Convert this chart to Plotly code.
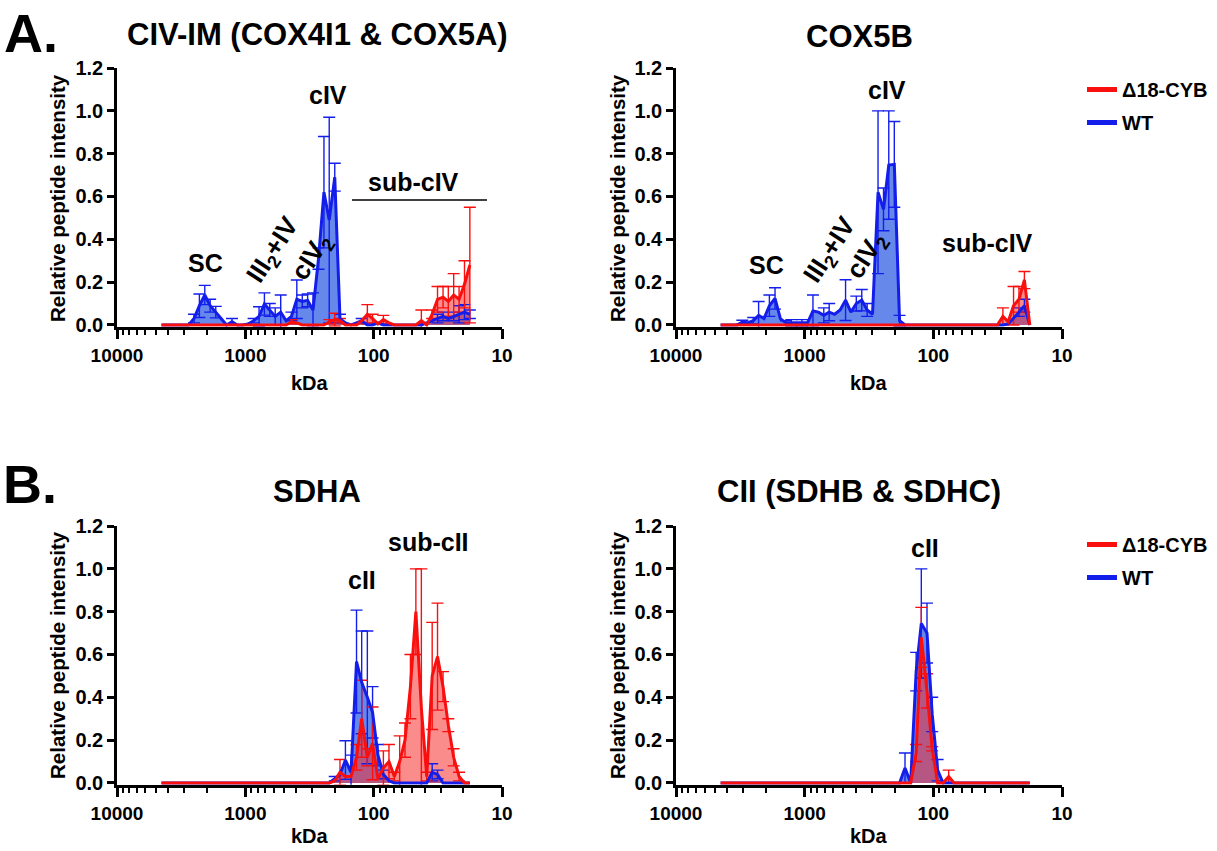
import plotly.graph_objects as go

# ---------------- data ----------------
kda = [4500, 4080, 3700, 3360, 3050, 2770, 2510, 2280, 2070, 1880,
       1700, 1545, 1400, 1270, 1155, 1050, 950, 862, 782, 710,
       645, 585, 530, 481, 437, 397, 360, 327, 297, 269,
       244, 222, 201, 183, 166, 150, 136, 124, 112, 102,
       92.6, 84, 76, 69, 62.7, 57, 51.7, 46.9, 42.5, 38.6,
       35, 31.8, 28.8, 26.2, 23.8, 21.6, 19.6, 17.8]

# Panel A (left): CIV-IM (COX4I1 & COX5A)
civim_wt = [0, 0, 0, 0, 0, 0, 0.03, 0.09, 0.14, 0.09,
            0.06, 0.03, 0, 0.015, 0, 0, 0.005, 0.02, 0.04, 0.098,
            0.07, 0.04, 0.06, 0.02, 0.04, 0.12, 0.11, 0.115, 0.07, 0.31,
            0.62, 0.49, 0.69, 0.03, 0.01, 0, 0.01, 0.02, 0, 0,
            0.01, 0, 0, 0, 0, 0, 0, 0, 0, 0.01,
            0.02, 0.03, 0.04, 0.03, 0.04, 0.05, 0.06, 0.05]
civim_wt_err = [0, 0, 0, 0, 0, 0, 0.02, 0.055, 0.045, 0.03,
                0.027, 0, 0, 0.015, 0, 0, 0, 0.01, 0.045, 0.052,
                0.03, 0.04, 0.08, 0, 0.02, 0.09, 0.03, 0.03, 0.08, 0.05,
                0.26, 0.48, 0.065, 0.02, 0, 0, 0, 0.01, 0, 0,
                0, 0, 0, 0, 0, 0, 0, 0, 0, 0,
                0, 0.02, 0.02, 0, 0.02, 0.04, 0.035, 0.02]
civim_d18 = [0, 0, 0, 0, 0, 0, 0, 0, 0, 0,
             0, 0, 0, 0, 0, 0, 0, 0, 0, 0,
             0, 0, 0, 0, 0.015, 0.01, 0, 0, 0, 0,
             0, 0.015, 0.025, 0.02, 0, 0, 0, 0.02, 0.05, 0.03,
             0.005, 0.025, 0.01, 0, 0, 0, 0, 0, 0.02, 0,
             0.05, 0.12, 0.13, 0.11, 0.14, 0.12, 0.19, 0.28]
civim_d18_err = [0, 0, 0, 0, 0, 0, 0, 0, 0, 0,
                 0, 0, 0, 0, 0, 0, 0, 0, 0, 0,
                 0, 0, 0, 0, 0.01, 0, 0, 0, 0, 0,
                 0, 0.01, 0.03, 0.01, 0, 0, 0, 0, 0.045, 0.02,
                 0, 0.02, 0, 0, 0, 0, 0, 0, 0.05, 0,
                 0.02, 0.06, 0.05, 0.07, 0.10, 0.06, 0.11, 0.27]

# Panel A (right): COX5B
cox5b_wt = [0, 0, 0, 0, 0.014, 0.01, 0.02, 0.045, 0.03, 0.09,
            0.124, 0.03, 0.01, 0.01, 0.01, 0.01, 0.01, 0.065, 0.06, 0.045,
            0.06, 0.05, 0.07, 0.116, 0.06, 0.10, 0.116, 0.07, 0.05, 0.62,
            0.54, 0.747, 0.75, 0.02, 0, 0, 0, 0, 0, 0,
            0, 0, 0, 0, 0, 0, 0, 0, 0, 0,
            0, 0, 0, 0.005, 0.03, 0.06, 0.09, 0]
cox5b_wt_err = [0, 0, 0, 0, 0.008, 0, 0.015, 0.065, 0, 0.05,
                0.05, 0, 0.01, 0.015, 0, 0.015, 0, 0.075, 0, 0.035,
                0.04, 0, 0, 0.095, 0, 0.035, 0.05, 0.03, 0, 0.38,
                0.1, 0.253, 0.2, 0.025, 0, 0, 0, 0, 0, 0,
                0, 0, 0, 0, 0, 0, 0, 0, 0, 0,
                0, 0, 0, 0, 0, 0.02, 0.03, 0]
cox5b_d18 = [0, 0, 0, 0, 0, 0, 0, 0, 0, 0,
             0, 0, 0, 0, 0, 0, 0, 0, 0, 0,
             0, 0, 0, 0, 0, 0, 0, 0, 0, 0,
             0, 0, 0, 0, 0, 0, 0, 0, 0, 0,
             0, 0, 0, 0, 0, 0, 0, 0, 0, 0,
             0, 0, 0.04, 0.015, 0.09, 0.12, 0.21, 0]
cox5b_d18_err = [0, 0, 0, 0, 0, 0, 0, 0, 0, 0,
                 0, 0, 0, 0, 0, 0, 0, 0, 0, 0,
                 0, 0, 0, 0, 0, 0, 0, 0, 0, 0,
                 0, 0, 0, 0, 0, 0, 0, 0, 0, 0,
                 0, 0, 0, 0, 0, 0, 0, 0, 0, 0,
                 0, 0, 0.04, 0, 0.09, 0.06, 0.04, 0]

# Panel B (left): SDHA
sdha_wt = [0, 0, 0, 0, 0, 0, 0, 0, 0, 0,
           0, 0, 0, 0, 0, 0, 0, 0, 0, 0,
           0, 0, 0, 0, 0, 0, 0, 0, 0, 0,
           0, 0, 0.02, 0.04, 0.107, 0.05, 0.567, 0.47, 0.40, 0.33,
           0.13, 0.04, 0.01, 0, 0, 0, 0, 0, 0, 0,
           0.05, 0.04, 0, 0, 0, 0, 0, 0]
sdha_wt_err = [0, 0, 0, 0, 0, 0, 0, 0, 0, 0,
               0, 0, 0, 0, 0, 0, 0, 0, 0, 0,
               0, 0, 0, 0, 0, 0, 0, 0, 0, 0,
               0, 0, 0.01, 0, 0.09, 0.08, 0.24, 0.24, 0.31, 0.12,
               0.05, 0.02, 0, 0, 0, 0, 0, 0, 0, 0,
               0.04, 0.02, 0, 0, 0, 0, 0, 0]
sdha_d18 = [0, 0, 0, 0, 0, 0, 0, 0, 0, 0,
            0, 0, 0, 0, 0, 0, 0, 0, 0, 0,
            0, 0, 0, 0, 0, 0, 0, 0, 0, 0,
            0, 0, 0.01, 0.05, 0.03, 0.03, 0.12, 0.30, 0.12, 0.185,
            0.02, 0.07, 0.10, 0.03, 0.10, 0.20, 0.45, 0.80, 0.35, 0.03,
            0.50, 0.59, 0.45, 0.27, 0.12, 0.03, 0, 0]
sdha_d18_err = [0, 0, 0, 0, 0, 0, 0, 0, 0, 0,
                0, 0, 0, 0, 0, 0, 0, 0, 0, 0,
                0, 0, 0, 0, 0, 0, 0, 0, 0, 0,
                0, 0, 0, 0.06, 0, 0, 0.06, 0.18, 0.04, 0.17,
                0, 0.08, 0.08, 0.02, 0.12, 0.08, 0.15, 0.20, 0.65, 0.02,
                0.25, 0.25, 0.07, 0.03, 0.04, 0.02, 0, 0]

# Panel B (right): CII (SDHB & SDHC)
cii_wt = [0, 0, 0, 0, 0, 0, 0, 0, 0, 0,
          0, 0, 0, 0, 0, 0, 0, 0, 0, 0,
          0, 0, 0, 0, 0, 0, 0, 0, 0, 0,
          0, 0, 0, 0, 0.07, 0, 0.52, 0.745, 0.70, 0.32,
          0.06, 0, 0, 0, 0, 0, 0, 0, 0, 0,
          0, 0, 0, 0, 0, 0, 0, 0]
cii_wt_err = [0, 0, 0, 0, 0, 0, 0, 0, 0, 0,
              0, 0, 0, 0, 0, 0, 0, 0, 0, 0,
              0, 0, 0, 0, 0, 0, 0, 0, 0, 0,
              0, 0, 0, 0, 0.07, 0, 0.09, 0.255, 0.14, 0.08,
              0.05, 0, 0, 0, 0, 0, 0, 0, 0, 0,
              0, 0, 0, 0, 0, 0, 0, 0]
cii_d18 = [0, 0, 0, 0, 0, 0, 0, 0, 0, 0,
           0, 0, 0, 0, 0, 0, 0, 0, 0, 0,
           0, 0, 0, 0, 0, 0, 0, 0, 0, 0,
           0, 0, 0, 0, 0, 0, 0.14, 0.68, 0.43, 0.16,
           0, 0, 0.03, 0, 0, 0, 0, 0, 0, 0,
           0, 0, 0, 0, 0, 0, 0, 0]
cii_d18_err = [0, 0, 0, 0, 0, 0, 0, 0, 0, 0,
               0, 0, 0, 0, 0, 0, 0, 0, 0, 0,
               0, 0, 0, 0, 0, 0, 0, 0, 0, 0,
               0, 0, 0, 0, 0, 0, 0.04, 0.14, 0.08, 0.01,
               0, 0, 0.03, 0, 0, 0, 0, 0, 0, 0,
               0, 0, 0, 0, 0, 0, 0, 0]

x_tickvals = [10000, 1000, 100, 10]
x_ticktext = ["10000", "1000", "100", "10"]
x_minor = [9000, 8000, 7000, 6000, 5000, 4000, 3000, 2000,
           900, 800, 700, 600, 500, 400, 300, 200,
           90, 80, 70, 60, 50, 40, 30, 20]
y_tickvals = [0, 0.2, 0.4, 0.6, 0.8, 1.0, 1.2]
y_ticktext = ["0.0", "0.2", "0.4", "0.6", "0.8", "1.0", "1.2"]

# ---------------- styling ----------------
W, H = 1217, 851
FONT = "Liberation Sans, Arial, sans-serif"
BLUE = "rgb(20,30,235)"
RED = "rgb(250,15,15)"
BLUE_FILL = "rgba(30,80,225,0.68)"
RED_FILL = "rgba(245,45,45,0.55)"


def px(xp):
    return xp / W


def py(yp):
    return 1 - yp / H


panels = [
    # axis suffix, wt, wt_err, d18, d18_err, x-domain px, y-domain px
    ("", civim_wt, civim_wt_err, civim_d18, civim_d18_err, (117, 502), (68, 326.7)),
    ("2", cox5b_wt, cox5b_wt_err, cox5b_d18, cox5b_d18_err, (676, 1062), (68, 326.7)),
    ("3", sdha_wt, sdha_wt_err, sdha_d18, sdha_d18_err, (117, 502), (526, 784.7)),
    ("4", cii_wt, cii_wt_err, cii_d18, cii_d18_err, (676, 1062), (526, 784.7)),
]

fig = go.Figure()
layout_axes = {}

for suf, wt, wt_err, d18, d18_err, xd, yd in panels:
    xa, ya = "x" + suf, "y" + suf
    # fills
    fig.add_trace(go.Scatter(x=kda, y=wt, mode="lines", line=dict(width=0, color=BLUE),
                             fill="tozeroy", fillcolor=BLUE_FILL, showlegend=False,
                             hoverinfo="skip", xaxis=xa, yaxis=ya))
    fig.add_trace(go.Scatter(x=kda, y=d18, mode="lines", line=dict(width=0, color=RED),
                             fill="tozeroy", fillcolor=RED_FILL, showlegend=False,
                             hoverinfo="skip", xaxis=xa, yaxis=ya))
    # error bars (only where an error was visible)
    for vals, errs, col in ((wt, wt_err, BLUE), (d18, d18_err, RED)):
        idx = [i for i, e in enumerate(errs) if e > 0]
        fig.add_trace(go.Scatter(
            x=[kda[i] for i in idx], y=[vals[i] for i in idx], mode="markers",
            marker=dict(size=1, opacity=0, color=col),
            error_y=dict(type="data", array=[errs[i] for i in idx], symmetric=True,
                         color=col, thickness=1.4, width=6),
            showlegend=False, hoverinfo="skip", xaxis=xa, yaxis=ya))
    # lines
    fig.add_trace(go.Scatter(x=kda, y=wt, mode="lines", line=dict(width=3, color=BLUE),
                             showlegend=False, hoverinfo="skip", xaxis=xa, yaxis=ya))
    fig.add_trace(go.Scatter(x=kda, y=d18, mode="lines", line=dict(width=3, color=RED),
                             showlegend=False, hoverinfo="skip", xaxis=xa, yaxis=ya))

    xtickfont = dict(family=FONT, size=19, color="black", weight=700)
    ytickfont = dict(family=FONT, size=20, color="black", weight=700)
    layout_axes["xaxis" + suf] = dict(
        type="log", range=[4, 1], domain=[px(xd[0]), px(xd[1])], anchor=ya,
        showline=True, linecolor="black", linewidth=2.5, automargin=False,
        ticks="outside", ticklen=10, tickwidth=2.5, tickcolor="black",
        tickmode="array", tickvals=x_tickvals, ticktext=x_ticktext, tickfont=xtickfont,
        minor=dict(ticks="outside", ticklen=6, tickwidth=2, tickcolor="black",
                   tickmode="array", tickvals=x_minor, showgrid=False),
        showgrid=False, zeroline=False, layer="below traces", fixedrange=True)
    layout_axes["yaxis" + suf] = dict(
        range=[-0.008, 1.2], domain=[py(yd[1]), py(yd[0])], anchor=xa,
        showline=True, linecolor="black", linewidth=2.5, automargin=False,
        ticks="outside", ticklen=7, tickwidth=2.5, tickcolor="black",
        tickmode="array", tickvals=y_tickvals, ticktext=y_ticktext, tickfont=ytickfont,
        showgrid=False, zeroline=False, layer="below traces", fixedrange=True)

# legend entries (line samples)
for leg, suf in (("legend", ""), ("legend2", "2")):
    fig.add_trace(go.Scatter(x=[None], y=[None], mode="lines", name="Δ18-CYB",
                             line=dict(color=RED, width=5), legend=leg, legendrank=1,
                             legendgroup="d18" + suf, xaxis="x2", yaxis="y2"))
    fig.add_trace(go.Scatter(x=[None], y=[None], mode="lines", name="WT",
                             line=dict(color=BLUE, width=5), legend=leg, legendrank=2,
                             legendgroup="wt" + suf, xaxis="x2", yaxis="y2"))

legend_common = dict(font=dict(family=FONT, size=20, color="black", weight=700),
                     bgcolor="rgba(0,0,0,0)", borderwidth=0, tracegroupgap=4,
                     traceorder="grouped", xanchor="left", yanchor="top", itemwidth=30)

annotations = []


def add_text(x, y, text, size, angle=0, yanchor="middle"):
    annotations.append(dict(x=px(x), y=py(y), xref="paper", yref="paper", text=text,
                            showarrow=False, textangle=angle, xanchor="center",
                            yanchor=yanchor,
                            font=dict(family=FONT, size=size, color="black", weight=700)))


# panel letters and titles
add_text(31, 0.5, "A.", 54, yanchor="top")
add_text(30, 452, "B.", 54, yanchor="top")
add_text(317, 35, "CIV-IM (COX4I1 &amp; COX5A)", 31)
add_text(859, 37, "COX5B", 31)
add_text(317, 491, "SDHA", 31)
add_text(859, 491, "CII (SDHB &amp; SDHC)", 31)
# axis titles
for xc in (57, 617):
    for yc in (198, 655):
        add_text(xc, yc, "Relative peptide intensity", 20.5, -90)
for xc in (310, 869):
    for yc in (383, 836):
        add_text(xc, yc, "kDa", 20)
# band labels
add_text(205, 263, "SC", 25)
add_text(273, 250, "III<sub>2</sub>+IV", 26, -57)
add_text(312, 258, "cIV<sub>2</sub>", 26, -57)
add_text(328, 95, "cIV", 25)
add_text(413, 182, "sub-cIV", 25)
add_text(766, 265, "SC", 25)
add_text(830, 250, "III<sub>2</sub>+IV", 26, -57)
add_text(866, 256, "cIV<sub>2</sub>", 26, -57)
add_text(887, 90, "cIV", 25)
add_text(987, 243, "sub-cIV", 25)
add_text(362, 580, "cII", 25)
add_text(428, 542, "sub-cII", 25)
add_text(925, 548, "cII", 25)

shapes = [dict(type="line", xref="paper", yref="paper", x0=px(352), x1=px(487),
               y0=py(200), y1=py(200), line=dict(color="black", width=1.5))]

fig.update_layout(
    width=W, height=H, margin=dict(l=0, r=0, t=0, b=0, pad=0, autoexpand=False),
    paper_bgcolor="white", plot_bgcolor="white",
    font=dict(family=FONT, color="black"),
    legend=dict(x=px(1082), y=py(70), **legend_common),
    legend2=dict(x=px(1082), y=py(525), **legend_common),
    annotations=annotations, shapes=shapes,
    **layout_axes,
)

fig.write_html("out.html", config={"displayModeBar": False},
               post_script="document.body.style.margin='0';"
                           "document.body.style.overflow='hidden';")
